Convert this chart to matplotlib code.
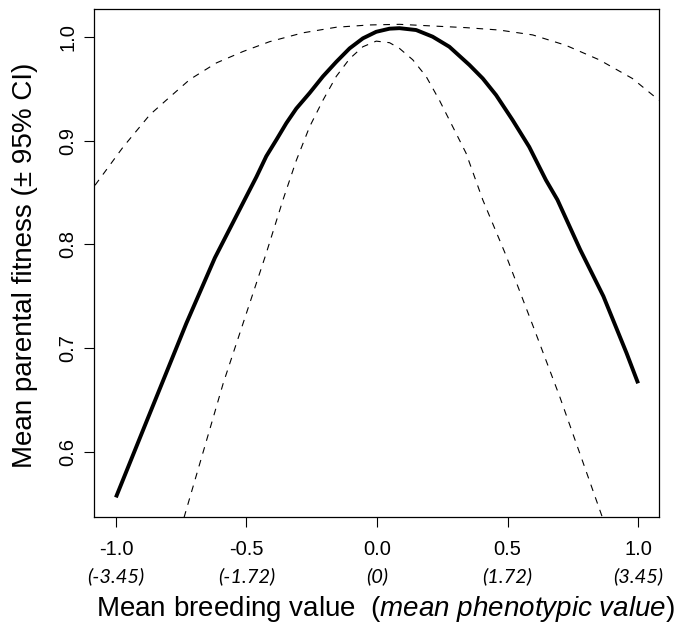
# 번식값에 따른 부모 적합도 곡선
import matplotlib
matplotlib.use("Agg")
import matplotlib.pyplot as plt

plt.rcParams['font.family'] = ['Liberation Sans', 'DejaVu Sans']
plt.rcParams['mathtext.fontset'] = 'custom'
plt.rcParams['mathtext.rm'] = 'Liberation Sans'
plt.rcParams['mathtext.it'] = 'Liberation Sans:italic'

# 평균 적합도 (굵은 실선)
fit_x = [-1.0, -0.883, -0.730, -0.621, -0.507, -0.462, -0.424, -0.385, -0.347, -0.309,
         -0.258, -0.207, -0.156, -0.105, -0.054, -0.003, 0.048, 0.086, 0.150, 0.213,
         0.277, 0.354, 0.405, 0.456, 0.519, 0.583, 0.647, 0.691, 0.778, 0.867, 0.956, 1.0]
fit_y = [0.556, 0.629, 0.724, 0.787, 0.843, 0.865, 0.885, 0.901, 0.917, 0.931,
         0.946, 0.962, 0.976, 0.989, 0.9987, 1.005, 1.008, 1.0085, 1.0067, 1.0003,
         0.9906, 0.973, 0.960, 0.944, 0.920, 0.894, 0.862, 0.843, 0.795, 0.750, 0.695, 0.666]

# 95% 신뢰구간 상한
upper_x = [-1.08, -0.972, -0.870, -0.794, -0.717, -0.615, -0.513, -0.411, -0.284, -0.156,
           -0.029, 0.086, 0.213, 0.341, 0.468, 0.596, 0.723, 0.851, 0.978, 1.08]
upper_y = [0.857, 0.894, 0.925, 0.942, 0.959, 0.975, 0.986, 0.9955, 1.004, 1.0094,
           1.0116, 1.0122, 1.0106, 1.009, 1.0067, 1.002, 0.992, 0.978, 0.960, 0.939]

# 95% 신뢰구간 하한
lower_x = [-0.770, -0.738, -0.589, -0.426, -0.360, -0.309, -0.258, -0.207, -0.156, -0.105,
           -0.054, -0.003, 0.048, 0.086, 0.137, 0.188, 0.239, 0.290, 0.341, 0.405,
           0.493, 0.598, 0.700, 0.790, 0.860, 0.880]
lower_y = [0.512, 0.5375, 0.666, 0.790, 0.843, 0.881, 0.9135, 0.939, 0.962, 0.979,
           0.9906, 0.996, 0.9945, 0.989, 0.978, 0.962, 0.939, 0.9135, 0.888, 0.843,
           0.790, 0.721, 0.653, 0.589, 0.539, 0.525]

# 눈금
x_ticks = [-1.0, -0.5, 0.0, 0.5, 1.0]
x_tick_labels = ['-1.0', '-0.5', '0.0', '0.5', '1.0']
pheno_labels = ['(-3.45)', '(-1.72)', '(0)', '(1.72)', '(3.45)']
y_ticks = [0.6, 0.7, 0.8, 0.9, 1.0]

fig = plt.figure(figsize=(6.77, 6.24), dpi=100)
ax = fig.add_axes([0.1388, 0.172, 0.8346, 0.8136])

ax.plot(upper_x, upper_y, color='black', lw=0.8, linestyle=(0, (6, 6)))
ax.plot(lower_x, lower_y, color='black', lw=0.8, linestyle=(0, (6, 6)))
ax.plot(fit_x, fit_y, color='black', lw=2.8, solid_capstyle='butt')

ax.set_xlim(-1.084, 1.08)
ax.set_ylim(0.5374, 1.027)

ax.set_xticks(x_ticks)
ax.set_xticklabels(x_tick_labels)
ax.set_yticks(y_ticks)
ax.set_yticklabels(['0.6', '0.7', '0.8', '0.9', '1.0'], rotation=90, va='center')
ax.tick_params(direction='out', length=7, width=0.8, labelsize=14.5)
ax.tick_params(axis='x', pad=10)
ax.tick_params(axis='y', pad=5)
for s in ax.spines.values():
    s.set_linewidth(0.9)

# 표현형 값 (이탤릭)
for xv, lab in zip(x_ticks, pheno_labels):
    ax.text(xv, -0.118, lab, transform=ax.get_xaxis_transform(), ha='center', va='center',
            fontsize=14.5, fontstyle='italic', family=['Lato', 'DejaVu Sans'])

ax.set_xlabel(r'Mean breeding value  ($\it{mean\ phenotypic\ value}$)', fontsize=20)
ax.xaxis.label.set_va('center')
ax.xaxis.set_label_coords(0.515, -0.182)
ax.set_ylabel('Mean parental fitness (± 95% CI)', fontsize=20)
ax.yaxis.label.set_va('center')
ax.yaxis.set_label_coords(-0.122, 0.495)

fig.savefig('out.png', dpi=100)
